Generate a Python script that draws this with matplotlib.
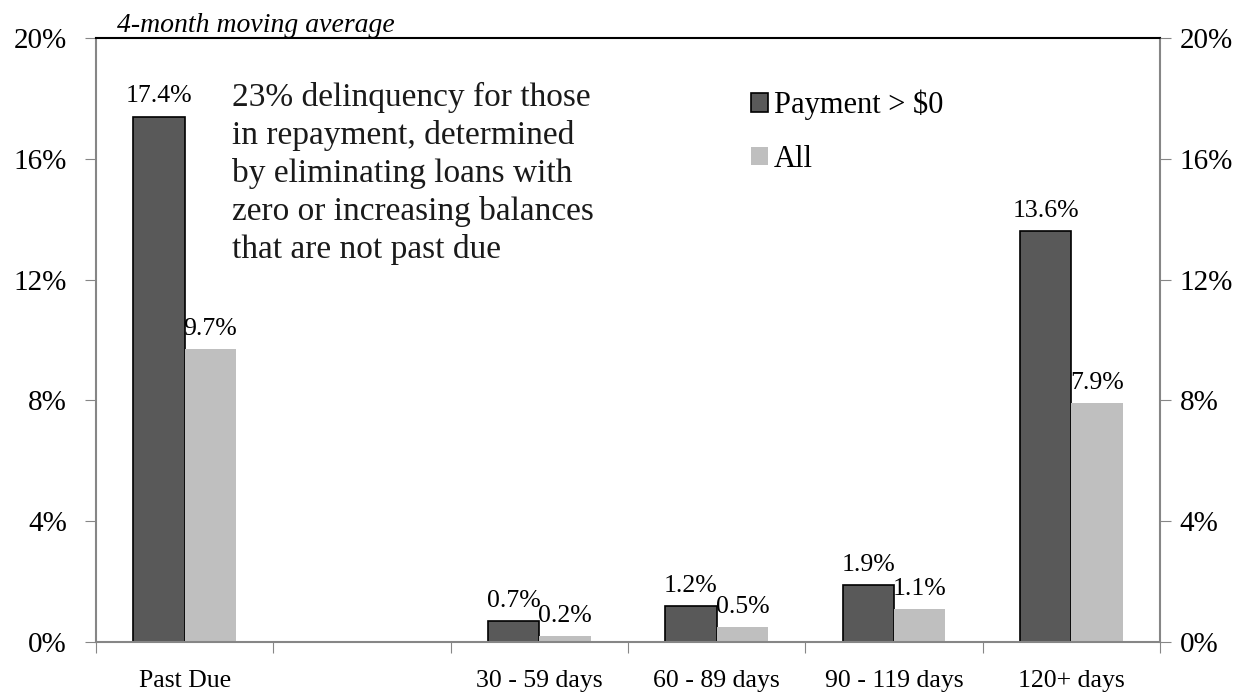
import matplotlib.pyplot as plt
import numpy as np

plt.rcParams["font.family"] = ["Liberation Serif", "DejaVu Serif"]

# %% Data
categories = ["Past Due", "", "30 - 59 days", "60 - 89 days", "90 - 119 days", "120+ days"]
payment_pos = [17.4, np.nan, 0.7, 1.2, 1.9, 13.6]
all_loans = [9.7, np.nan, 0.2, 0.5, 1.1, 7.9]
y_ticks = [0, 4, 8, 12, 16, 20]

dark = "#595959"
light = "#bfbfbf"
grey = "#868686"

fig = plt.figure(figsize=(12.55, 6.94), dpi=100)
ax = fig.add_axes([96 / 1255, 52 / 694, 1064 / 1255, 604 / 694])

x = np.arange(len(categories))
w = 0.29
ax.bar(x - w / 2, payment_pos, w, color=dark, edgecolor="black", linewidth=1.2,
       label="Payment > $0")
ax.bar(x + w / 2, all_loans, w, color=light, edgecolor="none", label="All")

for xi, v in zip(x, payment_pos):
    if not np.isnan(v):
        ax.text(xi - w / 2, v + 0.3, f"{v:.1f}%", ha="center", va="bottom", fontsize=18.5)
for xi, v in zip(x, all_loans):
    if not np.isnan(v):
        ax.text(xi + w / 2, v + 0.3, f"{v:.1f}%", ha="center", va="bottom", fontsize=18.5)

ax.set_xlim(-0.5, len(categories) - 0.5)
ax.set_ylim(0, 20)
ax.set_yticks(y_ticks)
ax.set_yticklabels([f"{t}%" for t in y_ticks], fontsize=21)
ax.tick_params(axis="y", direction="out", length=8, color=grey, pad=13)

# right-hand axis, same scale
ax2 = ax.twinx()
ax2.set_ylim(0, 20)
ax2.set_yticks(y_ticks)
ax2.set_yticklabels([f"{t}%" for t in y_ticks], fontsize=21)
ax2.tick_params(axis="y", direction="out", length=8, color=grey, pad=6)
for s in ax2.spines.values():
    s.set_visible(False)

# category boundary ticks
ax.set_xticks(np.arange(-0.5, len(categories), 1.0))
ax.set_xticklabels([])
ax.set_xticks(x, minor=True)
ax.set_xticklabels(categories, minor=True, fontsize=18.5)
ax.tick_params(axis="x", which="major", direction="out", length=8, color=grey)
ax.tick_params(axis="x", which="minor", length=0, pad=20)

for side in ["left", "right", "bottom"]:
    ax.spines[side].set_color(grey)
    ax.spines[side].set_linewidth(1.5)
ax.spines["top"].set_color("black")
ax.spines["top"].set_linewidth(1.5)

ax.text(0.02, 1.0, "4-month moving average", transform=ax.transAxes, fontsize=20,
        style="italic", ha="left", va="bottom")

ax.text(0.128, 0.928, "23% delinquency for those\nin repayment, determined\n"
        "by eliminating loans with\nzero or increasing balances\nthat are not past due",
        transform=ax.transAxes, fontsize=24, ha="left", va="top", linespacing=1.3,
        color="#1a1a1a")

ax.legend(loc="upper left", bbox_to_anchor=(0.59, 0.96), frameon=False, fontsize=22,
          handlelength=0.55, handleheight=0.55, handletextpad=0.2, labelspacing=0.8)

fig.savefig("out.png", dpi=100)
